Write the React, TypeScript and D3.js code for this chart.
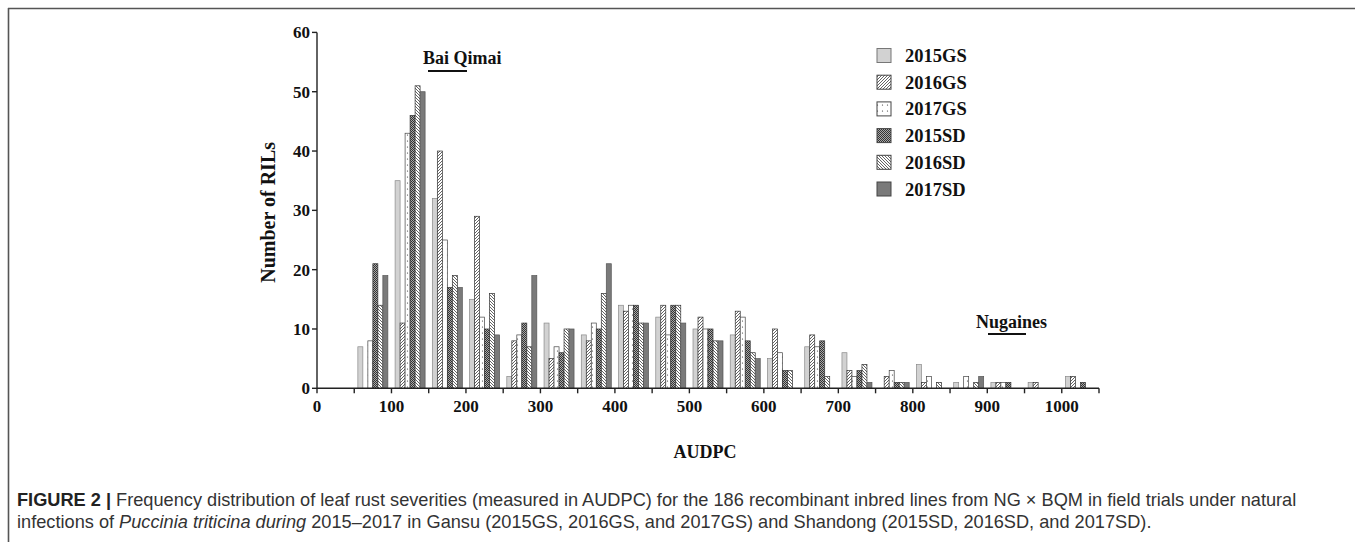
import React from "react";
import * as d3 from "d3";

const binStarts = [50, 100, 150, 200, 250, 300, 350, 400, 450, 500, 550, 600, 650, 700, 750, 800, 850, 900, 950, 1000];
const seriesNames = ["2015GS", "2016GS", "2017GS", "2015SD", "2016SD", "2017SD"];
const v2015GS = [7, 35, 32, 15, 2, 11, 9, 14, 12, 10, 9, 5, 7, 6, 0, 4, 1, 1, 1, 2];
const v2016GS = [0, 11, 40, 29, 8, 5, 8, 13, 14, 12, 13, 10, 9, 3, 2, 1, 0, 1, 1, 2];
const v2017GS = [8, 43, 25, 12, 9, 7, 11, 14, 9, 10, 12, 6, 7, 2, 3, 2, 2, 1, 0, 0];
const v2015SD = [21, 46, 17, 10, 11, 6, 10, 14, 14, 10, 8, 3, 8, 3, 1, 0, 0, 1, 0, 1];
const v2016SD = [14, 51, 19, 16, 7, 10, 16, 11, 14, 8, 6, 3, 2, 4, 1, 1, 1, 0, 0, 0];
const v2017SD = [19, 50, 17, 9, 19, 10, 21, 11, 11, 8, 5, 0, 0, 1, 1, 0, 2, 0, 0, 0];
const seriesValues = [v2015GS, v2016GS, v2017GS, v2015SD, v2016SD, v2017SD];
const xTickValues = d3.range(0, 1051, 50);
const xLabelValues = [0, 100, 200, 300, 400, 500, 600, 700, 800, 900, 1000];
const yTickValues = [0, 10, 20, 30, 40, 50, 60];
const binWidth = 50;

const fills = ["#d2d2d2", "url(#p16gs)", "url(#p17gs)", "url(#p15sd)", "url(#p16sd)", "#7a7a7a"];
const strokes = ["#8a8a8a", "#333", "#444", "#333", "#333", "#555"];

const serif = "'Liberation Serif', 'Times New Roman', serif";
const sans = "'Liberation Sans', Arial, Helvetica, sans-serif";

export default function App() {
  const x = d3.scaleLinear().domain([0, 1050]).range([317, 1099]);
  const y = d3.scaleLinear().domain([0, 60]).range([388.3, 32.4]);
  const barW = 5;
  const groupW = barW * seriesNames.length;

  const legendX = 877;
  const legendY0 = 48.5;
  const legendStep = 26.7;

  return (
    <svg width={1355} height={542} style={{ position: "absolute", left: 0, top: 0, background: "#fff" }}>
      <defs>
        <pattern id="p16gs" patternUnits="userSpaceOnUse" width={3} height={3}>
          <rect width={3} height={3} fill="#fff" />
          <path d="M-0.75,0.75 L0.75,-0.75 M0,3 L3,0 M2.25,3.75 L3.75,2.25" stroke="#222" strokeWidth={0.7} />
        </pattern>
        <pattern id="p16sd" patternUnits="userSpaceOnUse" width={3} height={3}>
          <rect width={3} height={3} fill="#fff" />
          <path d="M-0.75,2.25 L0.75,3.75 M0,0 L3,3 M2.25,-0.75 L3.75,0.75" stroke="#222" strokeWidth={0.7} />
        </pattern>
        <pattern id="p17gs" patternUnits="userSpaceOnUse" width={5} height={6}>
          <rect width={5} height={6} fill="#fff" />
          <circle cx={2.5} cy={3} r={0.6} fill="#333" />
        </pattern>
        <pattern id="p15sd" patternUnits="userSpaceOnUse" width={2} height={2}>
          <rect width={2} height={2} fill="#a8a8a8" />
          <rect x={0} y={0} width={1} height={1} fill="#333" />
          <rect x={1} y={1} width={1} height={1} fill="#333" />
        </pattern>
      </defs>

      {/* figure frame */}
      <line x1={8} x2={1355} y1={8.5} y2={8.5} stroke="#555" strokeWidth={1.6} />
      <line x1={8.5} x2={8.5} y1={8} y2={542} stroke="#555" strokeWidth={1.6} />

      {/* bars */}
      {seriesValues.map((vals, si) => (
        <g key={seriesNames[si]}>
          {vals.map((v, bi) => {
            if (v <= 0) return null;
            const b = binStarts[bi];
            const bx = x(b) + (x(b + binWidth) - x(b) - groupW) / 2 + si * barW;
            return (
              <rect
                key={bi}
                x={bx}
                y={y(v)}
                width={barW}
                height={y(0) - y(v)}
                fill={fills[si]}
                stroke={strokes[si]}
                strokeWidth={0.7}
              />
            );
          })}
        </g>
      ))}

      {/* y axis */}
      <line x1={317} x2={317} y1={y(60)} y2={y(0)} stroke="#222" strokeWidth={1.4} />
      {yTickValues.map((t) => (
        <g key={t}>
          <line x1={312} x2={317} y1={y(t)} y2={y(t)} stroke="#222" strokeWidth={1.4} />
          <text x={310} y={y(t) + 6} textAnchor="end" fontFamily={serif} fontWeight="bold" fontSize={17} fill="#111">
            {t}
          </text>
        </g>
      ))}

      {/* x axis */}
      <line x1={x(0)} x2={x(1050)} y1={y(0)} y2={y(0)} stroke="#222" strokeWidth={1.4} />
      {xTickValues.map((t) => (
        <line key={t} x1={x(t)} x2={x(t)} y1={y(0)} y2={y(0) + 5} stroke="#222" strokeWidth={1.4} />
      ))}
      {xLabelValues.map((t) => (
        <text key={t} x={x(t)} y={412} textAnchor="middle" fontFamily={serif} fontWeight="bold" fontSize={17} fill="#111">
          {t}
        </text>
      ))}

      {/* axis titles */}
      <text x={705} y={458} textAnchor="middle" fontFamily={serif} fontWeight="bold" fontSize={18} fill="#111">
        AUDPC
      </text>
      <text
        transform={`translate(275, ${(y(0) + y(60)) / 2 + 2}) rotate(-90)`}
        textAnchor="middle"
        fontFamily={serif}
        fontWeight="bold"
        fontSize={20}
        fill="#111"
      >
        Number of RILs
      </text>

      {/* parent annotations */}
      <text x={423} y={64} fontFamily={serif} fontWeight="bold" fontSize={18} fill="#111">
        Bai Qimai
      </text>
      <line x1={428} x2={467} y1={71} y2={71} stroke="#111" strokeWidth={2} />
      <text x={976} y={328} fontFamily={serif} fontWeight="bold" fontSize={18} fill="#111">
        Nugaines
      </text>
      <line x1={988} x2={1026} y1={334} y2={334} stroke="#111" strokeWidth={2} />

      {/* legend */}
      {seriesNames.map((name, i) => (
        <g key={name}>
          <rect
            x={legendX}
            y={legendY0 + i * legendStep}
            width={14}
            height={14}
            fill={fills[i]}
            stroke={i === 0 ? "#777" : "#444"}
            strokeWidth={1}
          />
          <text
            x={905}
            y={legendY0 + i * legendStep + 13.5}
            fontFamily={serif}
            fontWeight="bold"
            fontSize={18.5}
            fill="#111"
          >
            {name}
          </text>
        </g>
      ))}

      {/* caption */}
      <text x={17} y={506} fontFamily={sans} fontSize={18.2} fill="#333">
        <tspan fontWeight="bold" fill="#222">FIGURE 2 | </tspan>
        <tspan>
          Frequency distribution of leaf rust severities (measured in AUDPC) for the 186 recombinant inbred lines from NG × BQM in field trials under natural
        </tspan>
      </text>
      <text x={17} y={528} fontFamily={sans} fontSize={18.2} fill="#333">
        <tspan>infections of </tspan>
        <tspan fontStyle="italic">Puccinia triticina during</tspan>
        <tspan> 2015–2017 in Gansu (2015GS, 2016GS, and 2017GS) and Shandong (2015SD, 2016SD, and 2017SD).</tspan>
      </text>
    </svg>
  );
}
